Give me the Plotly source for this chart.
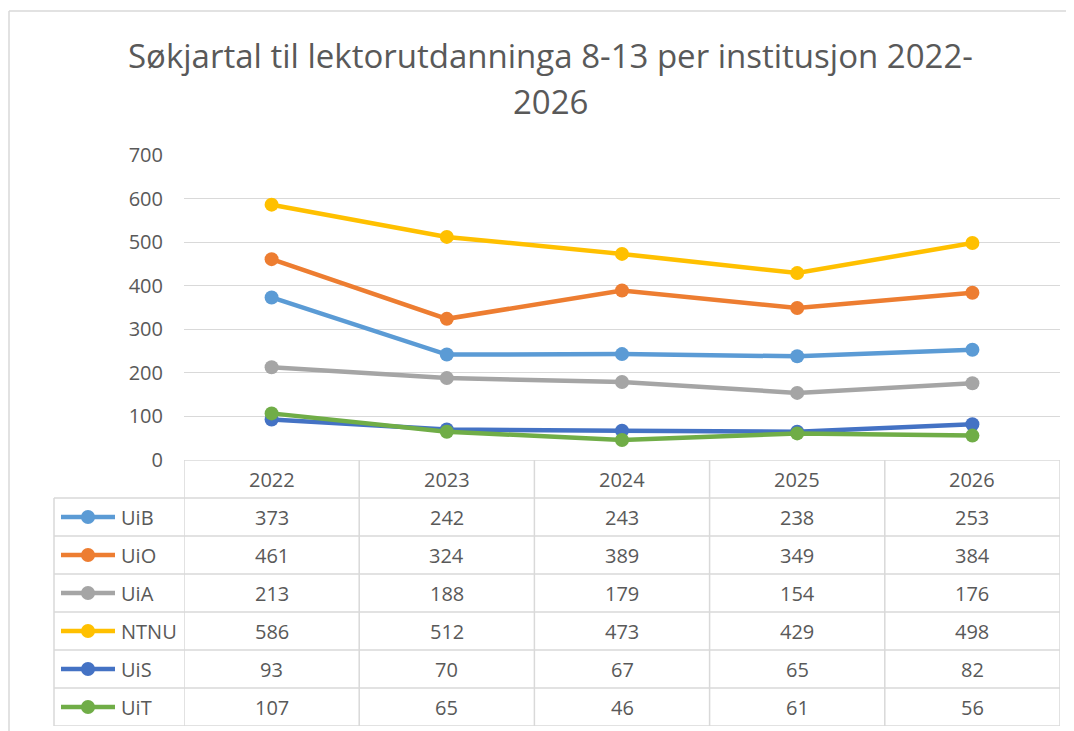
import plotly.graph_objects as go

years = ["2022", "2023", "2024", "2025", "2026"]
series_names = ["UiB", "UiO", "UiA", "NTNU", "UiS", "UiT"]
uib = [373, 242, 243, 238, 253]
uio = [461, 324, 389, 349, 384]
uia = [213, 188, 179, 154, 176]
ntnu = [586, 512, 473, 429, 498]
uis = [93, 70, 67, 65, 82]
uit = [107, 65, 46, 61, 56]
series_values = [uib, uio, uia, ntnu, uis, uit]
colors = ["#5B9BD5", "#ED7D31", "#A5A5A5", "#FFC000", "#4472C4", "#70AD47"]
yticks = [0, 100, 200, 300, 400, 500, 600, 700]
title_line1 = "Søkjartal til lektorutdanninga 8-13 per institusjon 2022-"
title_line2 = "2026"

OFF = 8  # page body margin
W, H = 1074 - OFF, 731 - OFF
L, R, T, B = 184 - OFF, 1060 - OFF, 155 - OFF, 726 - OFF
ZERO = 460 - OFF
grid_col = "#D9D9D9"
txt_col = "#595959"
FONT = "Open Sans"
FS = 20

fig = go.Figure()
for name, vals, col in zip(series_names, series_values, colors):
    fig.add_trace(go.Scatter(
        x=years, y=vals, name=name, mode="lines+markers",
        line=dict(color=col, width=4.5),
        marker=dict(color=col, size=14),
        xaxis="x", yaxis="y", showlegend=False, hoverinfo="x+y+name"))

line_dom_bottom = (B - ZERO) / (B - T)
nrows = 7  # header + 6 series

def px2paper_x(px):
    return (px - OFF - L) / (R - L)

def px2paper_y(py):
    return (B - (py - OFF)) / (B - T)

fig.update_layout(
    width=W, height=H,
    margin=dict(l=L, r=W - R, t=T, b=H - B, autoexpand=False),
    paper_bgcolor="white", plot_bgcolor="white",
    font=dict(family=FONT, color=txt_col, size=FS),
    xaxis=dict(type="category", categoryarray=years, range=[-0.5, 4.5],
               showticklabels=False, showgrid=False, zeroline=False,
               showline=False, ticks="", anchor="y"),
    yaxis=dict(domain=[line_dom_bottom, 1], range=[0, 700], tickvals=yticks,
               showgrid=True, gridcolor=grid_col, gridwidth=1.3,
               zeroline=False, showline=False, ticks="",
               ticklabelstandoff=20,
               tickfont=dict(family=FONT, size=FS, color=txt_col)),
    yaxis2=dict(domain=[0, line_dom_bottom], range=[nrows, 0],
                showgrid=False, zeroline=False, showticklabels=False,
                showline=False, anchor="x"),
    showlegend=False,
)

shapes = []
lw = 1.5
shapes.append(dict(type="line", xref="paper", yref="y2", x0=0, x1=1, y0=0, y1=0,
                   line=dict(color=grid_col, width=lw), layer="below"))
for i in range(1, nrows + 1):
    shapes.append(dict(type="line", xref="paper", yref="y2",
                       x0=px2paper_x(54), x1=1, y0=i, y1=i,
                       line=dict(color=grid_col, width=lw), layer="below"))
for k in range(len(years) + 1):
    shapes.append(dict(type="line", xref="x", yref="y2", x0=k - 0.5, x1=k - 0.5,
                       y0=0, y1=nrows, line=dict(color=grid_col, width=lw), layer="below"))
shapes.append(dict(type="line", xref="paper", yref="y2",
                   x0=px2paper_x(54), x1=px2paper_x(54), y0=1, y1=nrows,
                   line=dict(color=grid_col, width=lw), layer="below"))
# chart outer border (top and left visible)
shapes.append(dict(type="line", xref="paper", yref="paper",
                   x0=px2paper_x(9), x1=px2paper_x(1080), y0=px2paper_y(11), y1=px2paper_y(11),
                   line=dict(color=grid_col, width=1.5)))
shapes.append(dict(type="line", xref="paper", yref="paper",
                   x0=px2paper_x(9), x1=px2paper_x(9), y0=px2paper_y(11), y1=px2paper_y(740),
                   line=dict(color=grid_col, width=1.5)))

annotations = []
for k, yr in enumerate(years):
    annotations.append(dict(xref="x", yref="y2", x=k, y=0.5, text=yr, showarrow=False,
                            font=dict(family=FONT, size=FS, color=txt_col)))
for i, (name, vals, col) in enumerate(zip(series_names, series_values, colors)):
    yc = i + 1.5
    shapes.append(dict(type="line", xref="paper", yref="y2",
                       x0=px2paper_x(61), x1=px2paper_x(115), y0=yc, y1=yc,
                       line=dict(color=col, width=4.5)))
    shapes.append(dict(type="circle", xref="paper", yref="y2",
                       xsizemode="pixel", ysizemode="pixel",
                       xanchor=px2paper_x(88), yanchor=yc,
                       x0=-7, x1=7, y0=-7, y1=7,
                       fillcolor=col, line=dict(color=col, width=0)))
    annotations.append(dict(xref="paper", yref="y2", x=px2paper_x(119), y=yc,
                            xanchor="left", text=name, showarrow=False,
                            font=dict(family=FONT, size=FS, color=txt_col)))
    for k, v in enumerate(vals):
        annotations.append(dict(xref="x", yref="y2", x=k, y=yc, text=str(v),
                                showarrow=False,
                                font=dict(family=FONT, size=FS, color=txt_col)))

annotations.append(dict(xref="paper", yref="paper", x=px2paper_x(550), y=px2paper_y(56),
                        text=title_line1, showarrow=False, xanchor="center", yanchor="middle",
                        font=dict(family=FONT, size=33, color=txt_col)))
annotations.append(dict(xref="paper", yref="paper", x=px2paper_x(550), y=px2paper_y(101),
                        text=title_line2, showarrow=False, xanchor="center", yanchor="middle",
                        font=dict(family=FONT, size=33, color=txt_col)))

fig.update_layout(shapes=shapes, annotations=annotations)
fig.write_html("out.html")
